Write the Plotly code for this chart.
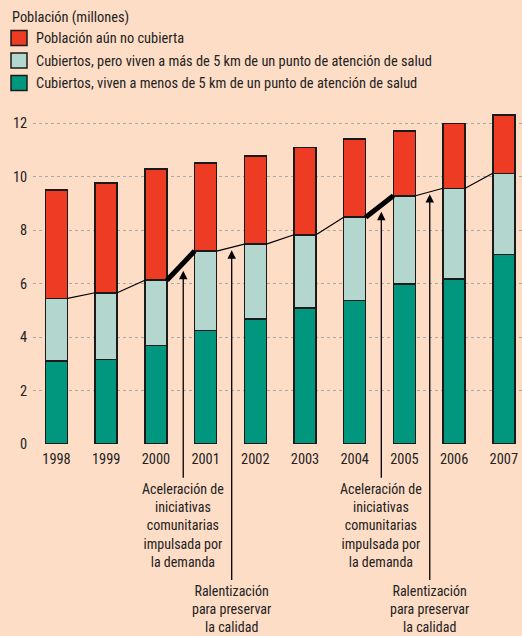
import plotly.graph_objects as go

# Población (millones)
years = [1998, 1999, 2000, 2001, 2002, 2003, 2004, 2005, 2006, 2007]
cerca = [3.10, 3.16, 3.68, 4.25, 4.67, 5.09, 5.37, 5.99, 6.17, 7.09]       # < 5 km
cubiertos = [5.45, 5.66, 6.13, 7.22, 7.48, 7.83, 8.49, 9.29, 9.57, 10.13]  # total cubiertos
total = [9.50, 9.76, 10.29, 10.52, 10.78, 11.10, 11.42, 11.71, 12.00, 12.31]

lejos = [c - n for c, n in zip(cubiertos, cerca)]
no_cubierta = [t - c for t, c in zip(total, cubiertos)]

names = ["Cubiertos, viven a menos de 5 km de un punto de atención de salud",
         "Cubiertos, pero viven a más de 5 km de un punto de atención de salud",
         "Población aún no cubierta"]
colors = ["#00977E", "#B3D7CF", "#EE3B24"]
legend_title = "Población (millones)"

# anotaciones: (posición x, punta y, texto)
acel_text = "Aceleración de<br>iniciativas<br>comunitarias<br>impulsada por<br>la demanda"
ralent_text = "Ralentización<br>para preservar<br>la calidad"
arrows = [(2000.55, 6.48, acel_text, "short"),
          (2001.525, 7.25, ralent_text, "long"),
          (2004.535, 8.69, acel_text, "short"),
          (2005.51, 9.35, ralent_text, "long")]
thick_from = [2000, 2004]

FONT = "Liberation Sans Narrow, Roboto Condensed, Arial Narrow, Liberation Sans, sans-serif"
BG = "#FEDDC6"
hw = 0.222  # media anchura de barra

# pixel helpers (plot area: x 33..522, y 110..443.7)
W, H0, H1 = 489.0, 110.0, 443.7
def px(x): return (x - 33) / W
def py(y): return (H1 - y) / (H1 - H0)

fig = go.Figure()
for vals, name, col in zip([cerca, lejos, no_cubierta], names, colors):
    fig.add_trace(go.Bar(x=years, y=vals, name=name, width=2 * hw, showlegend=False,
                         marker=dict(color=col, line=dict(color="#1a1a1a", width=1.5))))

# linea entre barras (tope de cubiertos)
lx, ly = [], []
for i in range(len(years) - 1):
    lx += [years[i] + hw, years[i + 1] - hw, None]
    ly += [cubiertos[i], cubiertos[i + 1], None]
fig.add_trace(go.Scatter(x=lx, y=ly, mode="lines", line=dict(color="black", width=1.2),
                         showlegend=False, hoverinfo="skip"))
for yr in thick_from:
    i = years.index(yr)
    fig.add_trace(go.Scatter(x=[years[i] + hw, years[i + 1] - hw], y=[cubiertos[i], cubiertos[i + 1]],
                             mode="lines", line=dict(color="black", width=5),
                             showlegend=False, hoverinfo="skip"))

for x, tip, txt, kind in arrows:
    base_px = 479 if kind == "short" else 581
    fig.add_annotation(x=x, y=tip, ax=x, ay=-(base_px - H1) / (H1 - H0) * 12.5, xref="x", yref="y",
                       axref="x", ayref="y",
                       text="", showarrow=True, arrowhead=2, arrowsize=1.3, arrowwidth=1.3,
                       arrowcolor="black", standoff=0)
    fig.add_annotation(x=x, y=py(base_px), xref="x", yref="paper", text=txt, showarrow=False,
                       yanchor="top", xanchor="center", align="center",
                       font=dict(family=FONT, size=14, color="#222"))

# leyenda
fig.add_annotation(x=px(10), y=py(18), xref="paper", yref="paper", text=legend_title,
                   showarrow=False, xanchor="left", yanchor="middle")
for k, (name, col) in enumerate(zip(reversed(names), reversed(colors))):
    yc = 38 + 22.5 * k
    fig.add_shape(type="rect", xref="paper", yref="paper", x0=px(11), x1=px(27),
                  y0=py(yc - 7.5), y1=py(yc + 7.5), fillcolor=col,
                  line=dict(color="#1a1a1a", width=1.5))
    fig.add_annotation(x=px(34), y=py(yc + 1), xref="paper", yref="paper", text=name,
                       showarrow=False, xanchor="left", yanchor="middle")

fig.update_layout(
    width=522, height=636,
    paper_bgcolor=BG, plot_bgcolor=BG,
    barmode="stack",
    margin=dict(l=33, r=0, t=110, b=192.3),
    font=dict(family=FONT, size=14.4, color="#222"),
    showlegend=False,
)
fig.update_xaxes(range=[1997.527, 2007.366], tickvals=years, ticktext=[str(y) for y in years],
                 showgrid=False, zeroline=False, showline=False, ticks="outside", ticklen=2,
                 tickcolor="rgba(0,0,0,0)", tickangle=0, automargin=False)
fig.update_yaxes(range=[0, 12.5], tickvals=[0, 2, 4, 6, 8, 10, 12], showgrid=True,
                 gridcolor="#A9A9A9", griddash="dot", gridwidth=1.2, zeroline=False, showline=False,
                 ticks="outside", ticklen=2, tickcolor="rgba(0,0,0,0)", automargin=False)

fig.write_html("out.html", config={"displayModeBar": False},
               post_script="document.body.style.margin='0';")
